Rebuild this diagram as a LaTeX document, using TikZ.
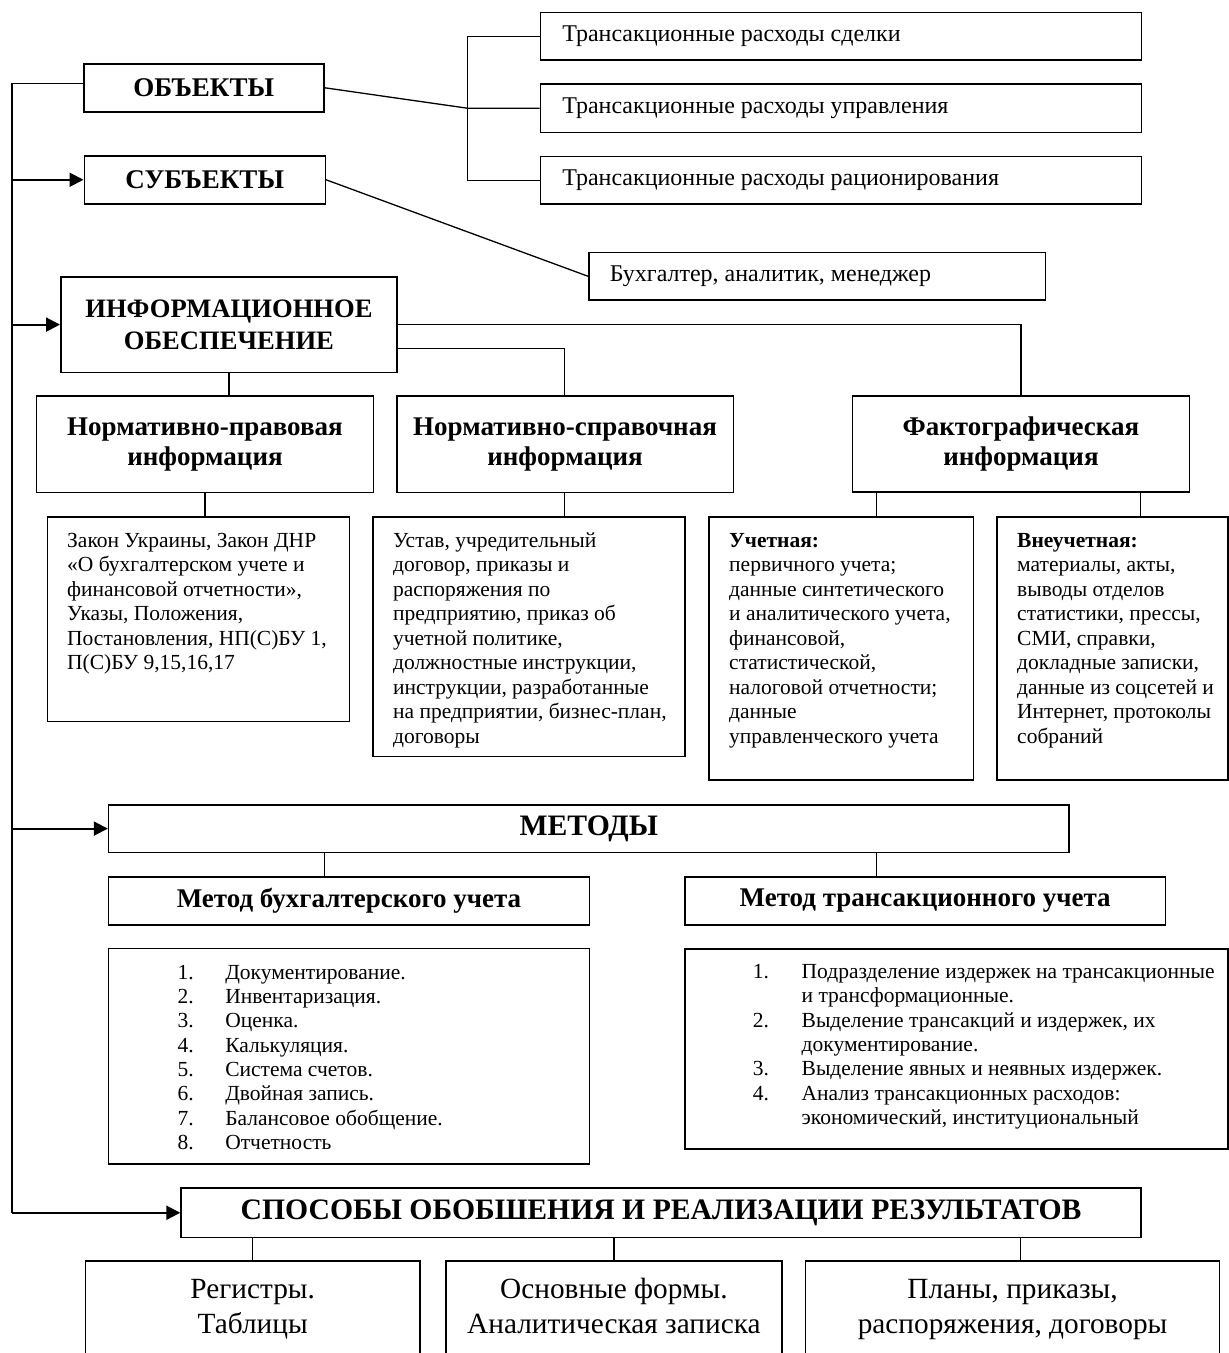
\documentclass[tikz,border=0pt]{standalone}
\usepackage{fontspec}
\setmainfont{Liberation Serif}
\usetikzlibrary{arrows.meta,calc}
\begin{document}
\begin{tikzpicture}[x=1pt,y=-1pt,
  bx/.style={draw,line width=1.5pt,inner sep=0pt,anchor=north west},
  ln/.style={line width=1.3pt},
  spine/.style={line width=1.6pt},
  ar/.style={line width=2pt,-{Triangle[length=14pt,width=14pt]}},
  body/.style={font=\fontsize{21.5}{24.5}\selectfont},
  lst/.style={font=\fontsize{21.5}{24.3}\selectfont,align=left,inner sep=0pt,anchor=north west},
  txt/.style={body,align=left,inner sep=0pt,anchor=north west},
  lbox/.style={bx,font=\fontsize{24}{28}\selectfont,inner xsep=22pt,inner ysep=0pt},
  headA/.style={font=\fontsize{27}{32}\selectfont\bfseries},
  headB/.style={font=\fontsize{27}{30}\selectfont\bfseries,align=center},
  headC/.style={font=\fontsize{27}{32}\selectfont\bfseries},
  headD/.style={font=\fontsize{29.7}{34}\selectfont\bfseries},
  big/.style={font=\fontsize{29.3}{35}\selectfont,align=center,inner sep=0pt,anchor=north}
]
\useasboundingbox (0,0) rectangle (1229,1353);
\clip (0,0) rectangle (1229,1353);

% top boxes
\node[bx,headA,minimum width=240pt,minimum height=48pt] (obj) at (83,63) {ОБЪЕКТЫ};
\node[bx,headA,minimum width=241pt,minimum height=48pt] (subj) at (83.5,155) {СУБЪЕКТЫ};
\node[lbox,minimum width=601pt,minimum height=47.6pt] (tr1) at (539.5,11.7) {\makebox[557pt][l]{Трансакционные расходы сделки}};
\node[lbox,minimum width=601pt,minimum height=48.4pt] (tr2) at (539.5,83.3) {\makebox[557pt][l]{Трансакционные расходы управления}};
\node[lbox,minimum width=601pt,minimum height=47.6pt] (tr3) at (539.5,155.7) {\makebox[557pt][l]{Трансакционные расходы рационирования}};
\node[lbox,inner xsep=21pt,minimum width=456.6pt,minimum height=47.6pt] (buh) at (588,251.7) {\makebox[414.6pt][l]{Бухгалтер, аналитик, менеджер}};

% information
\node[bx,font=\fontsize{26.6}{32.3}\selectfont\bfseries,align=center,minimum width=336.4pt,minimum height=95.7pt] (info) at (60,276) {ИНФОРМАЦИОННОЕ\\ОБЕСПЕЧЕНИЕ};
\node[bx,headB,minimum width=337.1pt,minimum height=96.7pt] (np) at (35.7,395) {Нормативно-правовая\\информация};
\node[bx,headB,minimum width=336.6pt,minimum height=96.7pt] (ns) at (396,395) {Нормативно-справочная\\информация};
\node[bx,headB,minimum width=337.2pt,minimum height=96pt] (fact) at (851.6,395) {Фактографическая\\информация};

\node[bx,minimum width=301.8pt,minimum height=204.7pt] (npd) at (46.9,516) {};
\node[bx,minimum width=312.4pt,minimum height=239.7pt] (nsd) at (372,516) {};
\node[bx,minimum width=264.7pt,minimum height=263pt] (uch) at (708,516) {};
\node[bx,minimum width=231pt,minimum height=263pt] (vne) at (996,516) {};

\node[txt] (npdt) at ($(npd.north west)+(20.1,13.85)$) {\strut Закон Украины, Закон ДНР\\«О бухгалтерском учете и\\финансовой отчетности»,\\Указы, Положения,\\Постановления, НП(С)БУ 1,\\П(С)БУ 9,15,16,17};
\node[txt] (nsdt) at ($(nsd.north west)+(20.9,13.85)$) {\strut Устав, учредительный\\договор, приказы и\\распоряжения по\\предприятию, приказ об\\учетной политике,\\должностные инструкции,\\инструкции, разработанные\\на предприятии, бизнес-план,\\договоры};
\node[txt] (ucht) at ($(uch.north west)+(21,13.85)$) {\strut\textbf{Учетная:}\\первичного учета;\\данные синтетического\\и аналитического учета,\\финансовой,\\статистической,\\налоговой отчетности;\\данные\\управленческого учета};
\node[txt] (vnet) at ($(vne.north west)+(21,13.85)$) {\strut\textbf{Внеучетная:}\\материалы, акты,\\выводы отделов\\статистики, прессы,\\СМИ, справки,\\докладные записки,\\данные из соцсетей и\\Интернет, протоколы\\собраний};

% methods
\node[bx,headD,minimum width=960.4pt,minimum height=47.7pt] (met) at (107.8,804) {МЕТОДЫ};
\node[bx,headC,minimum width=480.9pt,minimum height=48pt] (mb) at (107.8,876) {Метод бухгалтерского учета};
\node[bx,headC,minimum width=480.8pt,minimum height=48pt] (mt) at (684,876) {Метод трансакционного учета};
\node[bx,minimum width=480.9pt,minimum height=215.6pt] (mbl) at (107.8,947.7) {};
\node[bx,minimum width=543pt,minimum height=200pt] (mtl) at (684,948.3) {};

\node[lst] (mblt) at ($(mbl.north west)+(69.6,14.3)$) {\strut\makebox[47.7pt][l]{1.}Документирование.\\
\makebox[47.7pt][l]{2.}Инвентаризация.\\
\makebox[47.7pt][l]{3.}Оценка.\\
\makebox[47.7pt][l]{4.}Калькуляция.\\
\makebox[47.7pt][l]{5.}Система счетов.\\
\makebox[47.7pt][l]{6.}Двойная запись.\\
\makebox[47.7pt][l]{7.}Балансовое обобщение.\\
\makebox[47.7pt][l]{8.}Отчетность};
\node[lst] (mtlt) at ($(mtl.north west)+(68.7,13.0)$) {\strut\makebox[48.8pt][l]{1.}Подразделение издержек на трансакционные\\
\makebox[48.8pt][l]{}и трансформационные.\\
\makebox[48.8pt][l]{2.}Выделение трансакций и издержек, их\\
\makebox[48.8pt][l]{}документирование.\\
\makebox[48.8pt][l]{3.}Выделение явных и неявных издержек.\\
\makebox[48.8pt][l]{4.}Анализ трансакционных расходов:\\
\makebox[48.8pt][l]{}экономический, институциональный};

% results
\node[bx,headD,minimum width=960pt,minimum height=49.4pt] (spo) at (180.3,1187.3) {СПОСОБЫ ОБОБШЕНИЯ И РЕАЛИЗАЦИИ РЕЗУЛЬТАТОВ};
\node[bx,minimum width=334.7pt,minimum height=130pt] (b1) at (84.6,1260) {};
\node[bx,minimum width=336.3pt,minimum height=130pt] (b2) at (445,1260) {};
\node[bx,minimum width=413.8pt,minimum height=130pt] (b3) at (804.9,1260) {};
\node[big] (b1t) at ($(b1.north)+(0,13.5)$) {\strut Регистры.\\Таблицы};
\node[big] (b2t) at ($(b2.north)+(0,13.5)$) {\strut Основные формы.\\Аналитическая записка};
\node[big] (b3t) at ($(b3.north)+(0,13.5)$) {\strut Планы, приказы,\\распоряжения, договоры};

% coordinates
\coordinate (s0) at (12,83.3);
\coordinate (jx) at (467.7,0);
\coordinate (nsx) at (564.7,348.3);
\coordinate (ux) at (876.8,0);
\coordinate (vx) at (1140.4,0);
\coordinate (mbx) at (324.2,0);
\coordinate (mtx) at (876.7,0);
\coordinate (b3x) at (1020.4,0);

% spine
\draw[spine] (s0) -- (s0 |- spo.west);
\draw[ln] (s0) -- (s0 -| obj.west);
\draw[ar] (s0 |- subj.west) -- (subj.west);
\draw[ar] (s0 |- info.west) -- (info.west);
\draw[ar] (s0 |- met.west) -- (met.west);
\draw[ar] (s0 |- spo.west) -- (spo.west);

% connectors
\draw[ln] (obj.east) -- (jx |- tr2.west) -- (tr2.west);
\draw[ln] (tr1.west) -| (jx |- tr3.west) -- (tr3.west);
\draw[ln] (subj.east) -- (buh.west);
\draw[ln] (info.east) -| (fact.north);
\draw[ln] (info.east |- nsx) -| (ns.north -| nsx);
\draw[ln] (info.south) -- (info.south |- np.north);
\draw[ln] (np.south) -- (np.south |- npd.north);
\draw[ln] (ns.south -| nsx) -- (nsd.north -| nsx);
\draw[ln] (fact.south -| ux) -- (uch.north -| ux);
\draw[ln] (fact.south -| vx) -- (vne.north -| vx);
\draw[ln] (met.south -| mbx) -- (mb.north -| mbx);
\draw[ln] (met.south -| mtx) -- (mt.north -| mtx);
\draw[ln] (spo.south -| b1.north) -- (b1.north);
\draw[ln] (spo.south -| b2.north) -- (b2.north);
\draw[ln] (spo.south -| b3x) -- (b3.north -| b3x);
\end{tikzpicture}
\end{document}
